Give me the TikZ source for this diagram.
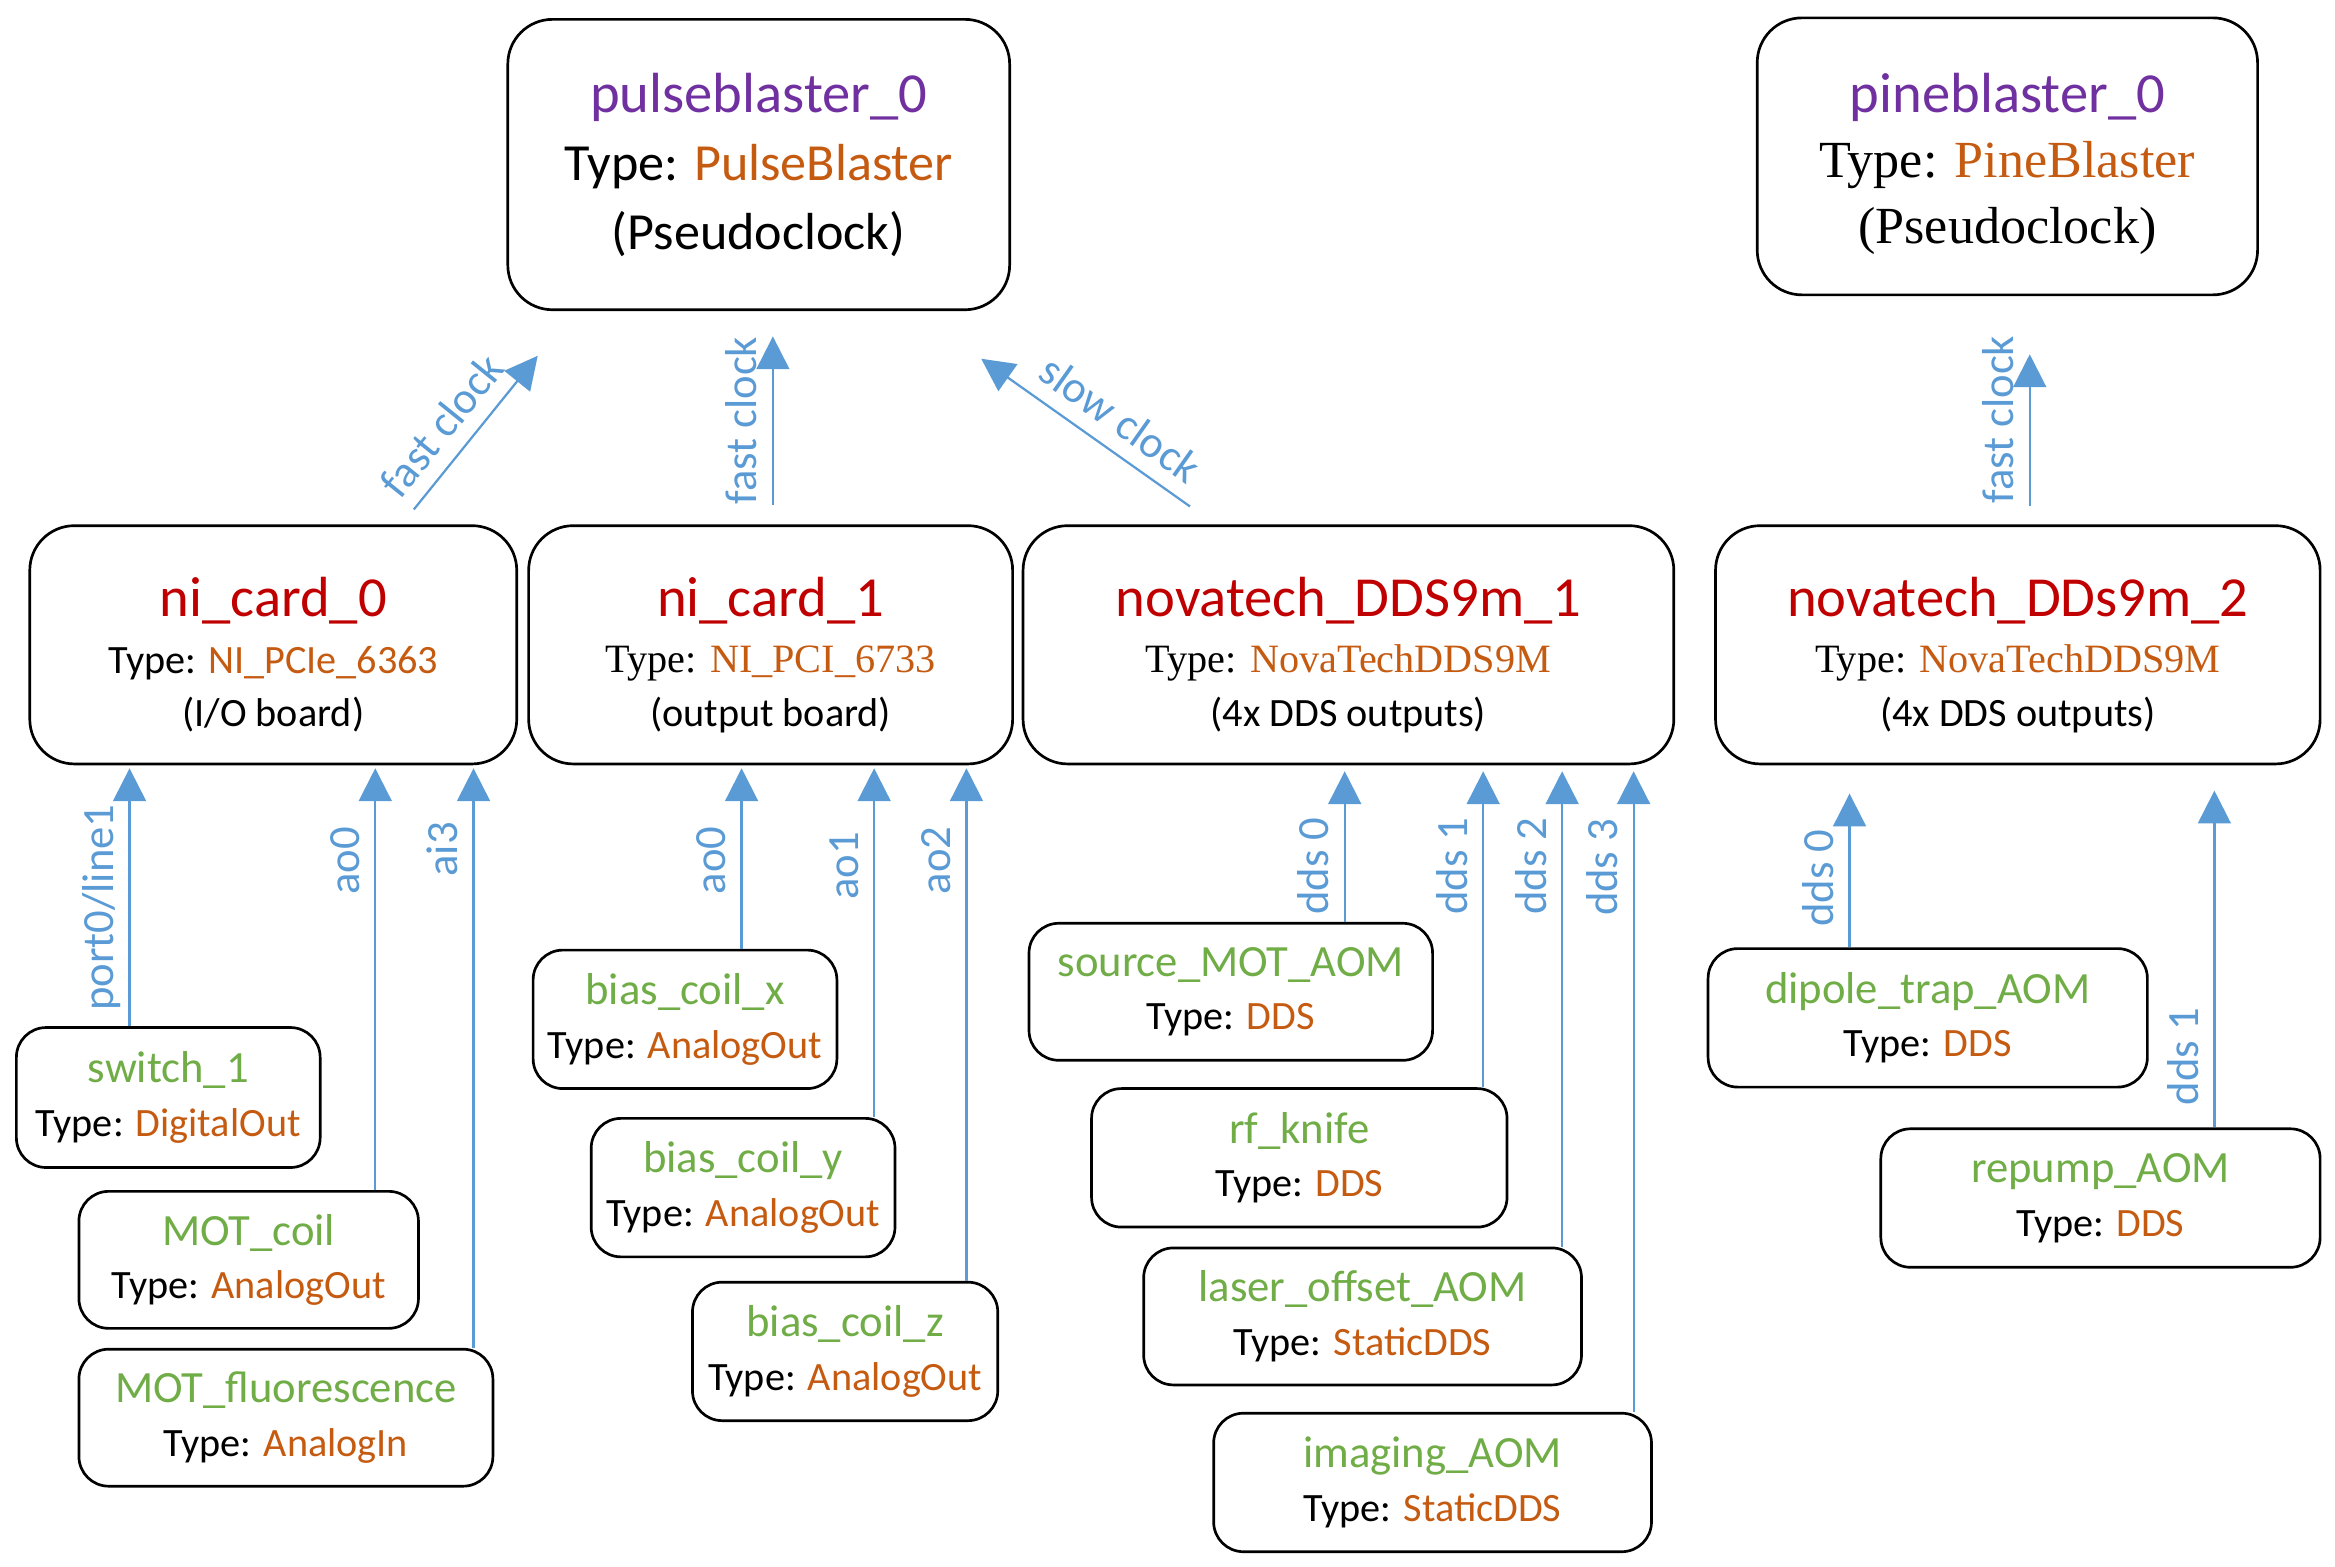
\documentclass[tikz,border=0pt]{standalone}
\usepackage{fontspec}
\setmainfont{Carlito}
\newfontfamily\tnr{Liberation Serif}
\usepackage{tikz}
\usetikzlibrary{arrows.meta,calc,positioning}

\definecolor{clkpurple}{HTML}{7030A0}
\definecolor{devred}{HTML}{C00000}
\definecolor{typeorange}{HTML}{C55A11}
\definecolor{chgreen}{HTML}{70AD47}
\definecolor{linkblue}{HTML}{5B9BD5}

\newcommand{\bigname}[2]{{\fontsize{38}{46}\selectfont\color{#1}#2}}
\newcommand{\chname}[1]{{\fontsize{30}{36}\selectfont\color{chgreen}#1}}
\newcommand{\tval}[1]{\textcolor{typeorange}{#1}}
\newcommand{\topstrut}[1]{\rule{0pt}{#1}}

\tikzset{
  dev/.style={draw, line width=1.8pt, rounded corners=30pt, align=center,
    inner sep=0pt, font=\fontsize{27}{36}\selectfont},
  chan/.style={draw, line width=1.8pt, rounded corners=20pt, align=center,
    inner sep=0pt, font=\fontsize{27}{36}\selectfont},
  link/.style={linkblue, line width=1.5pt, -{Triangle[length=22pt,width=22pt]}},
  vlbl/.style={text=linkblue, font=\fontsize{30}{34}\selectfont, rotate=90,
    anchor=south, inner sep=4pt, text height=20pt, text depth=6pt},
  slbl/.style={text=linkblue, font=\fontsize{30}{34}\selectfont, sloped, above,
    inner sep=4pt, text height=20pt, text depth=6pt},
}

\begin{document}
\begin{tikzpicture}[x=1pt,y=-1pt]
\useasboundingbox (0,0) rectangle (1568,1052);

%%% HELP LINES - uncomment to design/extend
% \draw[step=100,gray,very thin] (0,0) grid (1568,1052);

%% PSEUDOCLOCKS
\node[dev, minimum width=337pt, minimum height=195pt, font=\fontsize{35}{46}\selectfont]
  (pb) at (509.5,110.5) {
    \bigname{clkpurple}{pulseblaster\_0}\\
    Type: \tval{PulseBlaster}\\
    (Pseudoclock)
};
\node[dev, minimum width=336pt, minimum height=186pt, font=\tnr\fontsize{35}{44}\selectfont]
  (pine) at (1348,105) {
    \topstrut{36pt}{\rmfamily\bigname{clkpurple}{pineblaster\_0}}\\
    Type: \tval{PineBlaster}\\
    (Pseudoclock)
};

%% DEVICES
% ni_card_0
\node[dev, minimum width=327pt, minimum height=160pt] (nic0) at (183.5,433) {
    \topstrut{40pt}\bigname{devred}{ni\_card\_0}\\[2pt]
    Type: \tval{NI\_PCIe\_6363}\\
    (I/O board)
};
% ni_card_1
\node[dev, minimum width=325pt, minimum height=160pt] (nic1) at (517.5,433) {
    \topstrut{40pt}\bigname{devred}{ni\_card\_1}\\[2pt]
    {\tnr Type: \tval{NI\_PCI\_6733}}\\
    (output board)
};
% novatech 1
\node[dev, minimum width=437pt, minimum height=160pt] (nov1) at (905.5,433) {
    \topstrut{40pt}\bigname{devred}{novatech\_DDS9m\_1}\\[2pt]
    {\tnr Type: \tval{NovaTechDDS9M}}\\
    (4x DDS outputs)
};
% novatech 2
\node[dev, minimum width=406pt, minimum height=160pt] (nov2) at (1355,433) {
    \topstrut{40pt}\bigname{devred}{novatech\_DDs9m\_2}\\[2pt]
    {\tnr Type: \tval{NovaTechDDS9M}}\\
    (4x DDS outputs)
};

%% CLOCK LINES
\draw[link] ($(nic0.north east)+(-70,-10)$) -- ($(pb.south west)+(21,30)$)
  node[slbl, pos=.42] {fast clock};
\draw[link] ($(nic1.north)+(1.5,-13)$) -- ($(nic1.north |- pb.south)+(1.5,17)$)
  node[vlbl, pos=.5] {fast clock};
\draw[link] ($(nov1.north west)+(113,-12)$) -- ($(pb.south east)+(-20,32)$)
  node[slbl, pos=.42] {slow clock};
\draw[link] ($(nov2.north)+(8,-12)$) -- ($(nov2.north |- pine.south)+(8,39)$)
  node[vlbl, pos=.57] {fast clock};

%% CHANNELS of ni_card_0
\node[chan, minimum width=204pt, minimum height=94pt] (sw1) at (113,737)
  {\chname{switch\_1}\\ Type: \tval{DigitalOut}};
\node[chan, minimum width=228pt, minimum height=92pt] (motcoil) at (167,846)
  {\chname{MOT\_coil}\\ Type: \tval{AnalogOut}};
\node[chan, minimum width=278pt, minimum height=92pt] (motfluor) at (192,952)
  {\chname{MOT\_fluorescence}\\ Type: \tval{AnalogIn}};

\draw[link] ($(sw1.north)+(-26,0)$) -- ($(nic0.south -| sw1.north)+(-26,2)$)
  node[vlbl, pos=.46] {port0/line1};
\draw[link] ($(motcoil.north)+(85,0)$) -- ($(nic0.south -| motcoil.north)+(85,2)$)
  node[vlbl, pos=.78] {ao0};
\draw[link] ($(motfluor.north)+(126,0)$) -- ($(nic0.south -| motfluor.north)+(126,2)$)
  node[vlbl, pos=.86] {ai3};

%% CHANNELS of ni_card_1
\node[chan, minimum width=204pt, minimum height=93pt] (biasx) at (460,684.5)
  {\chname{bias\_coil\_x}\\ Type: \tval{AnalogOut}};
\node[chan, minimum width=204pt, minimum height=93pt] (biasy) at (499,797.5)
  {\chname{bias\_coil\_y}\\ Type: \tval{AnalogOut}};
\node[chan, minimum width=205pt, minimum height=93pt] (biasz) at (567.5,907.5)
  {\chname{bias\_coil\_z}\\ Type: \tval{AnalogOut}};

\draw[link] ($(biasx.north)+(38,0)$) -- ($(nic1.south -| biasx.north)+(38,2)$)
  node[vlbl, pos=.49] {ao0};
\draw[link] ($(biasy.north)+(88,0)$) -- ($(nic1.south -| biasy.north)+(88,2)$)
  node[vlbl, pos=.72] {ao1};
\draw[link] ($(biasz.north)+(81.5,0)$) -- ($(nic1.south -| biasz.north)+(81.5,2)$)
  node[vlbl, pos=.82] {ao2};

%% CHANNELS of novatech 1
\node[chan, minimum width=271pt, minimum height=92pt] (srcmot) at (826.5,666)
  {\chname{source\_MOT\_AOM}\\ Type: \tval{DDS}};
\node[chan, minimum width=279pt, minimum height=93pt] (rfknife) at (872.5,777.5)
  {\chname{rf\_knife}\\ Type: \tval{DDS}};
\node[chan, minimum width=294pt, minimum height=92pt] (laseroff) at (915,884)
  {\chname{laser\_offset\_AOM}\\ Type: \tval{StaticDDS}};
\node[chan, minimum width=294pt, minimum height=93pt] (imaging) at (962,995.5)
  {\chname{imaging\_AOM}\\ Type: \tval{StaticDDS}};

\draw[link] ($(srcmot.north)+(76.5,0)$) -- ($(nov1.south -| srcmot.north)+(76.5,4)$)
  node[vlbl, pos=.37] {dds 0};
\draw[link] ($(rfknife.north)+(123.5,0)$) -- ($(nov1.south -| rfknife.north)+(123.5,4)$)
  node[vlbl, pos=.70] {dds 1};
\draw[link] ($(laseroff.north)+(134,0)$) -- ($(nov1.south -| laseroff.north)+(134,4)$)
  node[vlbl, pos=.80] {dds 2};
\draw[link] ($(imaging.north)+(135,0)$) -- ($(nov1.south -| imaging.north)+(135,4)$)
  node[vlbl, pos=.85] {dds 3};

%% CHANNELS of novatech 2
\node[chan, minimum width=295pt, minimum height=93pt] (dipole) at (1294.5,683.5)
  {\chname{dipole\_trap\_AOM}\\ Type: \tval{DDS}};
\node[chan, minimum width=295pt, minimum height=93pt] (repump) at (1410.5,804.5)
  {\chname{repump\_AOM}\\ Type: \tval{DDS}};

\draw[link] ($(dipole.north)+(-52.5,0)$) -- ($(nov2.south -| dipole.north)+(-52.5,19)$)
  node[vlbl, pos=.45] {dds 0};
\draw[link] ($(repump.north)+(76.5,0)$) -- ($(nov2.south -| repump.north)+(76.5,17)$)
  node[vlbl, pos=.21] {dds 1};
\end{tikzpicture}
\end{document}
